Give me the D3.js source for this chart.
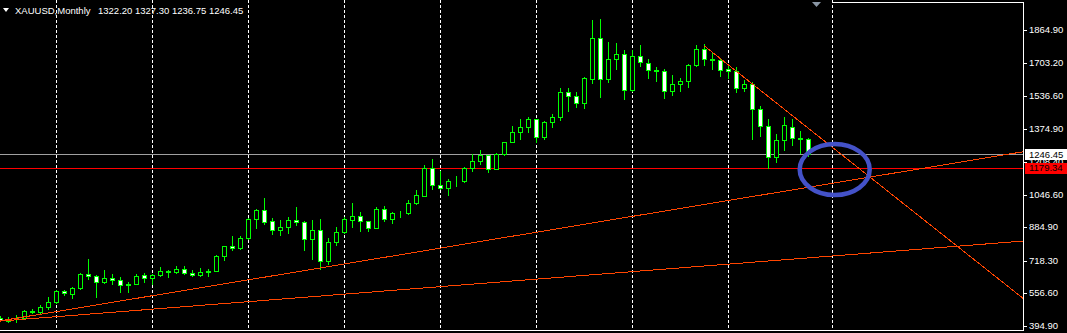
<!DOCTYPE html>
<html lang="en">
<head>
  <meta charset="UTF-8">
  <title>XAUUSD Monthly</title>
  <script src="https://d3js.org/d3.v7.min.js"></script>
  <style>
    html, body { width:100%; height:100%; margin:0; background:#000; overflow:hidden; }
    svg { display:block; }
    text { font-family:"Liberation Sans", Arial, sans-serif; font-size:9.5px; fill:#fff; }
  </style>
</head>
<body>
  <svg id="chart" width="1067" height="333"></svg>
  <script>
    // monthly bars, Jun 2005 .. Nov 2013
    const months = [
      "2005.06","2005.07","2005.08","2005.09","2005.10","2005.11","2005.12",
      "2006.01","2006.02","2006.03","2006.04","2006.05","2006.06","2006.07","2006.08","2006.09","2006.10","2006.11","2006.12",
      "2007.01","2007.02","2007.03","2007.04","2007.05","2007.06","2007.07","2007.08","2007.09","2007.10","2007.11","2007.12",
      "2008.01","2008.02","2008.03","2008.04","2008.05","2008.06","2008.07","2008.08","2008.09","2008.10","2008.11","2008.12",
      "2009.01","2009.02","2009.03","2009.04","2009.05","2009.06","2009.07","2009.08","2009.09","2009.10","2009.11","2009.12",
      "2010.01","2010.02","2010.03","2010.04","2010.05","2010.06","2010.07","2010.08","2010.09","2010.10","2010.11","2010.12",
      "2011.01","2011.02","2011.03","2011.04","2011.05","2011.06","2011.07","2011.08","2011.09","2011.10","2011.11","2011.12",
      "2012.01","2012.02","2012.03","2012.04","2012.05","2012.06","2012.07","2012.08","2012.09","2012.10","2012.11","2012.12",
      "2013.01","2013.02","2013.03","2013.04","2013.05","2013.06","2013.07","2013.08","2013.09","2013.10","2013.11"
    ];
    const opens = [
      433,428,430,432,468,464,488,
      512,565,553,580,651,641,613,632,622,598,603,645,
      632,648,666,662,678,656,645,662,667,741,789,779,
      829,924,969,914,872,885,922,911,825,870,718,810,
      860,921,942,916,883,977,926,953,955,1004,1040,1178,
      1093,1080,1115,1112,1178,1213,1242,1176,1247,1308,1359,1384,
      1421,1332,1409,1432,1556,1536,1500,1620,1824,1622,1720,1745,
      1565,1737,1700,1668,1663,1561,1598,1612,1690,1772,1719,1714,
      1672,1660,1576,1596,1474,1390,1232,1320,1384,1327,1322.20
    ];
    const highs = [
      443,437,448,475,478,498,537,
      570,573,586,655,728,648,670,652,636,611,650,655,
      654,688,673,692,692,672,681,676,745,792,842,842,
      930,975,1032,932,922,937,986,917,922,925,830,888,
      935,1006,961,917,983,990,961,966,1020,1070,1195,1226,
      1163,1125,1140,1183,1249,1266,1244,1251,1310,1388,1424,1431,
      1424,1411,1447,1575,1577,1556,1632,1913,1920,1803,1802,1763,
      1764,1791,1720,1679,1670,1640,1628,1695,1790,1796,1755,1723,
      1694,1682,1617,1606,1488,1424,1348,1434,1424,1361,1327.30
    ];
    const lows = [
      418,412,415,428,456,453,476,
      507,548,533,578,628,540,605,600,560,560,600,612,
      604,642,636,657,650,641,642,642,666,722,772,775,
      825,880,902,850,848,856,896,772,728,675,700,795,
      855,884,864,865,880,917,905,933,949,1000,1040,1075,
      1073,1045,1088,1110,1164,1200,1157,1175,1242,1307,1321,1360,
      1308,1324,1381,1418,1462,1480,1478,1602,1530,1604,1670,1523,
      1563,1688,1627,1613,1527,1540,1564,1583,1688,1692,1672,1635,
      1625,1555,1562,1321,1338,1180,1208,1270,1292,1251,1236.75
    ];
    const closes = [
      424,419,433,468,465,490,512,
      565,557,580,651,641,613,632,622,597,603,643,631,
      648,666,662,678,656,645,660,666,741,789,779,829,
      924,969,912,870,886,922,911,825,870,718,811,859,
      925,940,916,883,977,926,953,955,1004,1043,1178,1093,
      1080,1115,1112,1178,1213,1242,1176,1247,1308,1357,1384,1421,
      1332,1409,1432,1556,1536,1500,1625,1824,1622,1720,1745,1565,
      1737,1704,1668,1663,1561,1598,1612,1690,1772,1719,1714,1665,
      1660,1576,1596,1474,1390,1232,1320,1392,1327,1322,1246.45
    ];

    const priceTicks = [1864.90, 1703.20, 1536.60, 1374.90, 1208.40, 1046.60, 884.90, 718.30, 556.60, 394.90];
    const gridBars = [7, 19, 31, 43, 55, 67, 79, 91, 104];   // bar index of vertical grid lines
    const bid = 1246.45;
    const level = 1179.34;                                   // horizontal red line
    // trend lines: two anchor points (bar index, price), drawn as rays to the right
    const trendLines = [
      {t1:0,  p1:419,  t2:40,  p2:682},
      {t1:0,  p1:418,  t2:100, p2:729},
      {t1:88, p1:1786, t2:100, p2:1408}
    ];
    const circleMark = {t:104.3, p:1171};
    const header = ["XAUUSD,Monthly", "1322.20 1327.30 1236.75 1246.45"];

    const W = 1067, H = 333, plotR = 1023, plotB = 330;
    const svg = d3.select("#chart");

    const x = d3.scaleLinear().domain([0, 127.7]).range([0.3, 1021.9]);
    const y = d3.scaleLinear().domain([394.9, 1864.9]).range([325.7, 30]);
    const px = v => Math.round(v) + 0.5;

    const bars = months.map((m, i) => ({m, i, o:opens[i], h:highs[i], l:lows[i], c:closes[i]}));

    const plot = svg.append("g");
    plot.append("defs").append("clipPath").attr("id", "clip")
      .append("rect").attr("x", 0).attr("y", 0).attr("width", plotR).attr("height", plotB);
    const g = plot.append("g").attr("clip-path", "url(#clip)").attr("shape-rendering", "crispEdges");

    // vertical grid
    g.selectAll(".grid").data(gridBars).join("line")
      .attr("x1", d => px(x(d))).attr("x2", d => px(x(d)))
      .attr("y1", 0).attr("y2", plotB)
      .attr("stroke", "#fff").attr("stroke-dasharray", "3,2");

    // horizontal lines
    g.append("line").attr("x1", 0).attr("x2", plotR)
      .attr("y1", px(y(bid))).attr("y2", px(y(bid))).attr("stroke", "#a0a0a0");
    g.append("line").attr("x1", 0).attr("x2", plotR)
      .attr("y1", px(y(level))).attr("y2", px(y(level))).attr("stroke", "#ff0000");

    // candles
    const cg = g.selectAll(".bar").data(bars).join("g");
    cg.append("line")
      .attr("x1", d => px(x(d.i))).attr("x2", d => px(x(d.i)))
      .attr("y1", d => Math.round(y(d.h))).attr("y2", d => Math.round(y(d.l)) + 1)
      .attr("stroke", "#00ff00");
    cg.append("rect")
      .attr("x", d => Math.round(x(d.i)) - 1.5)
      .attr("width", 4)
      .attr("y", d => Math.round(y(Math.max(d.o, d.c))) + 0.5)
      .attr("height", d => Math.max(0, Math.round(y(Math.min(d.o, d.c))) - Math.round(y(Math.max(d.o, d.c)))))
      .attr("fill", d => d.c >= d.o ? "#000" : "#fff")
      .attr("stroke", "#00ff00");

    // trend lines
    g.selectAll(".trend").data(trendLines).join("line")
      .attr("x1", d => x(d.t1)).attr("y1", d => y(d.p1))
      .attr("x2", plotR)
      .attr("y2", d => {
        const k = (y(d.p2) - y(d.p1)) / (x(d.t2) - x(d.t1));
        return y(d.p1) + k * (plotR - x(d.t1));
      })
      .attr("stroke", "#ff4500").attr("stroke-width", 1);

    // blue ellipse annotation
    plot.append("ellipse")
      .attr("cx", x(circleMark.t)).attr("cy", y(circleMark.p))
      .attr("rx", 35).attr("ry", 25.5)
      .attr("fill", "none").attr("stroke", "#4452c8").attr("stroke-width", 4.5);

    // frame
    const fr = svg.append("g").attr("shape-rendering", "crispEdges").attr("stroke", "#fff");
    fr.append("line").attr("x1", 0).attr("x2", plotR + 1).attr("y1", plotB + 0.5).attr("y2", plotB + 0.5);
    fr.append("line").attr("x1", plotR + 0.5).attr("x2", plotR + 0.5).attr("y1", 2).attr("y2", plotB + 1);
    fr.append("line").attr("x1", px(x(gridBars[gridBars.length - 1]))).attr("x2", plotR + 1).attr("y1", 2.5).attr("y2", 2.5);

    // chart shift marker
    svg.append("path").attr("d", "M812,2L821,2L816.5,7Z").attr("fill", "#8a96a4");

    // price axis
    const ax = svg.append("g");
    ax.selectAll("line").data(priceTicks).join("line")
      .attr("x1", plotR + 1).attr("x2", plotR + 4)
      .attr("y1", d => px(y(d))).attr("y2", d => px(y(d)))
      .attr("stroke", "#fff").attr("shape-rendering", "crispEdges");
    ax.selectAll("text").data(priceTicks).join("text")
      .attr("x", 1029).attr("y", d => y(d)).attr("dy", "0.35em")
      .text(d => d.toFixed(2));

    // price labels
    const lab = [
      {v:bid, bg:"#fff", fg:"#000"},
      {v:level, bg:"#ff0000", fg:"#000"}
    ];
    const lg = svg.selectAll(".lab").data(lab).join("g");
    lg.append("rect").attr("x", 1025).attr("width", 42)
      .attr("y", d => Math.round(y(d.v)) - 5).attr("height", 11)
      .attr("fill", d => d.bg);
    lg.append("text").attr("x", 1029).attr("y", d => y(d.v)).attr("dy", "0.35em")
      .style("fill", d => d.fg).text(d => d.v.toFixed(2));

    // header
    svg.append("path").attr("d", "M3,8L9,8L6,12Z").attr("fill", "#fff");
    svg.append("text").attr("x", 15).attr("y", 14).text(header[0]);
    svg.append("text").attr("x", 98).attr("y", 14).text(header[1]);
  </script>
</body>
</html>
